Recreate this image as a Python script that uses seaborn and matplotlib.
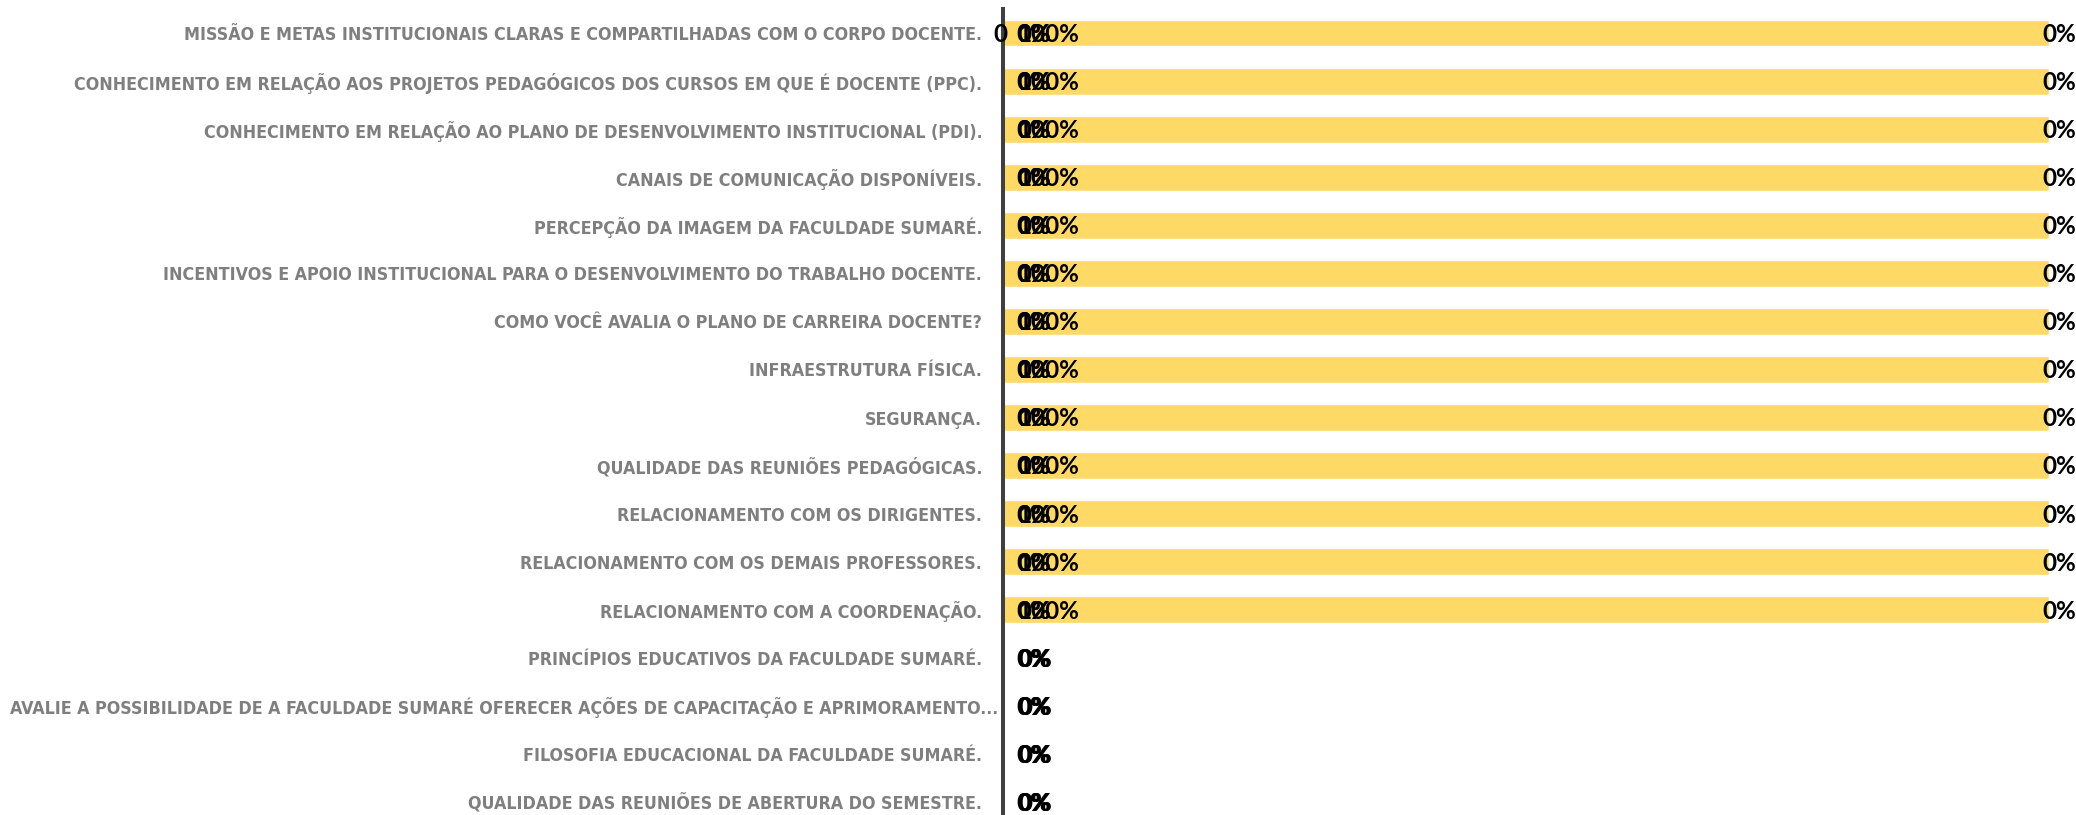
import matplotlib
matplotlib.use("Agg")
import matplotlib.pyplot as plt
from matplotlib import font_manager
from matplotlib.transforms import ScaledTranslation
import seaborn as sns
import numpy as np

# ---- dados ----
categorias = [
    "MISSÃO E METAS INSTITUCIONAIS CLARAS E COMPARTILHADAS COM O CORPO DOCENTE.",
    "CONHECIMENTO EM RELAÇÃO AOS PROJETOS PEDAGÓGICOS DOS CURSOS EM QUE É DOCENTE (PPC).",
    "CONHECIMENTO EM RELAÇÃO AO PLANO DE DESENVOLVIMENTO INSTITUCIONAL (PDI).",
    "CANAIS DE COMUNICAÇÃO DISPONÍVEIS.",
    "PERCEPÇÃO DA IMAGEM DA FACULDADE SUMARÉ.",
    "INCENTIVOS E APOIO INSTITUCIONAL PARA O DESENVOLVIMENTO DO TRABALHO DOCENTE.",
    "COMO VOCÊ AVALIA O PLANO DE CARREIRA DOCENTE?",
    "INFRAESTRUTURA FÍSICA.",
    "SEGURANÇA.",
    "QUALIDADE DAS REUNIÕES PEDAGÓGICAS.",
    "RELACIONAMENTO COM OS DIRIGENTES.",
    "RELACIONAMENTO COM OS DEMAIS PROFESSORES.",
    "RELACIONAMENTO COM A COORDENAÇÃO.",
    "PRINCÍPIOS EDUCATIVOS DA FACULDADE SUMARÉ.",
    "AVALIE A POSSIBILIDADE DE A FACULDADE SUMARÉ OFERECER AÇÕES DE CAPACITAÇÃO E APRIMORAMENTO...",
    "FILOSOFIA EDUCACIONAL DA FACULDADE SUMARÉ.",
    "QUALIDADE DAS REUNIÕES DE ABERTURA DO SEMESTRE.",
]

# percentuais por resposta (empilhados)
pct_ruim    = [0, 0, 0, 0, 0, 0, 0, 0, 0, 0, 0, 0, 0, 0, 0, 0, 0]
pct_regular = [0, 0, 0, 0, 0, 0, 0, 0, 0, 0, 0, 0, 0, 0, 0, 0, 0]
pct_bom     = [100, 100, 100, 100, 100, 100, 100, 100, 100, 100, 100, 100, 100, 0, 0, 0, 0]
pct_otimo   = [0, 0, 0, 0, 0, 0, 0, 0, 0, 0, 0, 0, 0, 0, 0, 0, 0]

series = [pct_ruim, pct_regular, pct_bom, pct_otimo]
cores = ["#A5A5A5", "#ED7D31", "#FFD966", "#5B9BD5"]

# fonte estreita p/ os rótulos das perguntas
nomes = {f.name for f in font_manager.fontManager.ttflist}
if "Liberation Sans Narrow" in nomes:
    fonte_cat, esticar, tam_cat = "Liberation Sans Narrow", "normal", 14.5
else:
    fonte_cat, esticar, tam_cat = "DejaVu Sans", "condensed", 12.8

# ---- figura ----
sns.set_style("white")
fig = plt.figure(figsize=(20.76, 8.15), dpi=100)
ax = fig.add_axes([1003 / 2076, 0.0, 1 - 1003 / 2076, 1 - 9 / 815])

acum = np.cumsum(np.array(series, dtype=float), axis=0)
inicio = acum - np.array(series, dtype=float)

# empilhado: desenha do total maior para o menor
for i in range(len(series) - 1, -1, -1):
    sns.barplot(x=acum[i], y=categorias, orient="h", color=cores[i],
                saturation=1, width=0.56, ax=ax)

ax.set_xlim(0, 102.6)
ax.set_ylim(16.27, -0.5)
ax.set_xlabel("")
ax.set_ylabel("")
ax.set_xticks([])

sns.despine(ax=ax, top=True, right=True, bottom=True, left=False)
ax.spines["left"].set_color("#404040")
ax.spines["left"].set_linewidth(2.9)

ax.tick_params(axis="y", length=0, pad=15)
for lbl in ax.get_yticklabels():
    lbl.set_fontfamily(fonte_cat)
    lbl.set_fontstretch(esticar)
    lbl.set_fontweight("bold")
    lbl.set_fontsize(tam_cat)
    lbl.set_color("#7F7F7F")
    # o rótulo truncado ("...") fica mais colado ao eixo no original
    if lbl.get_text().endswith("..."):
        lbl.set_transform(lbl.get_transform() + ScaledTranslation(11.5 / 72, 0, fig.dpi_scale_trans))

# rótulos de dados
for i, s in enumerate(series):
    for j, v in enumerate(s):
        x0 = inicio[i][j]
        if x0 < 50:
            off = 9.5 + i * 0.6
        else:
            off = -6.5 + i * 0.6
        ax.annotate(f"{v}%", xy=(x0, j), xytext=(off, -1), textcoords="offset points",
                    ha="left", va="center", fontsize=17.5, family="Lato",
                    fontweight="bold", color="black")

ax.annotate("0", xy=(0, 0), xytext=(-2, -1), textcoords="offset points",
            ha="center", va="center", fontsize=17.5, family="Lato",
            fontweight="bold", color="black")

fig.savefig("out.png", dpi=100)
